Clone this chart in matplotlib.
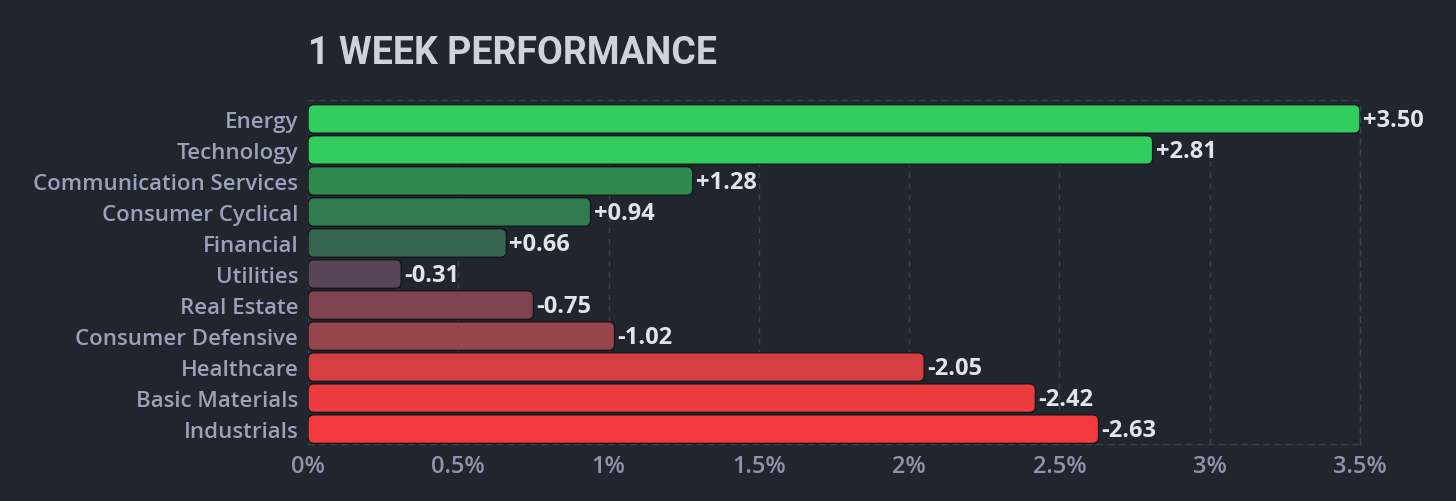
import matplotlib
matplotlib.use('Agg')
import matplotlib.pyplot as plt
from matplotlib.patches import FancyBboxPatch

sectors = ['Energy', 'Technology', 'Communication Services', 'Consumer Cyclical',
           'Financial', 'Utilities', 'Real Estate', 'Consumer Defensive',
           'Healthcare', 'Basic Materials', 'Industrials']
changes = [3.50, 2.81, 1.28, 0.94, 0.66, -0.31, -0.75, -1.02, -2.05, -2.42, -2.63]
bar_colors = ['#33cc5e', '#33cc5e', '#2f8a4e', '#327b51', '#356550', '#5a4558',
              '#7f4450', '#97454d', '#d63e41', '#eb3b3f', '#f43a3d']
xticks = [0, 0.5, 1, 1.5, 2, 2.5, 3, 3.5]
xtick_labels = ['0%', '0.5%', '1%', '1.5%', '2%', '2.5%', '3%', '3.5%']

BG = '#21252e'
GRID = '#3b404c'
plt.rcParams['font.family'] = ['Open Sans', 'DejaVu Sans']

fig = plt.figure(figsize=(14.56, 5.02), dpi=100, facecolor=BG)
ax = fig.add_axes([308 / 1456, 1 - 445 / 502, 1052 / 1456, 344 / 502])
ax.set_facecolor(BG)

ypos = list(range(len(sectors)))
widths = [abs(v) for v in changes]
bars = ax.barh(ypos, widths, height=0.92, color=bar_colors)

ax.set_xlim(0, 3.5)
ax.set_ylim(10.48, -0.61)

# swap plain bars for rounded ones
px_x = 1052 / 3.5
px_y = 344 / 11.09
radius = 6 / px_x
for b in bars:
    b.set_visible(False)
    p = FancyBboxPatch((b.get_x(), b.get_y()), b.get_width(), b.get_height(),
                       boxstyle=f'round,pad=0,rounding_size={radius}',
                       mutation_aspect=px_x / px_y,
                       facecolor=b.get_facecolor(), edgecolor='#15171c',
                       linewidth=1.0, zorder=3)
    ax.add_patch(p)

for y, w, v in zip(ypos, widths, changes):
    ax.text(w + 3 / px_x, y + 0.03, f'{v:+.2f}', va='center', ha='left',
            color='#e2e4ec', fontsize=17, fontweight='bold', zorder=4)

ax.set_xticks(xticks)
ax.set_xticklabels(xtick_labels)
ax.set_yticks(ypos)
ax.set_yticklabels(sectors)
ax.tick_params(axis='x', length=0, pad=7, labelsize=17, labelcolor='#8c94ae')
ax.tick_params(axis='y', length=0, pad=7, labelsize=16, labelcolor='#9aa1ba')
for lbl in ax.get_xticklabels() + ax.get_yticklabels():
    lbl.set_fontweight('semibold')

ax.grid(axis='x', color=GRID, linestyle=(0, (4, 4)), linewidth=1, zorder=0)
ax.set_axisbelow(True)
ax.spines['left'].set_visible(False)
for s in ['top', 'bottom', 'right']:
    ax.spines[s].set_color(GRID)
    ax.spines[s].set_linestyle((0, (4, 4)))
    ax.spines[s].set_linewidth(1)

fig.text(308 / 1456, 1 - 64 / 502, '1 WEEK PERFORMANCE', ha='left', va='baseline',
         color='#cfd2da', fontsize=27, fontweight='bold', family=['Roboto', 'DejaVu Sans'])

fig.savefig('out.png', dpi=100, facecolor=BG)
